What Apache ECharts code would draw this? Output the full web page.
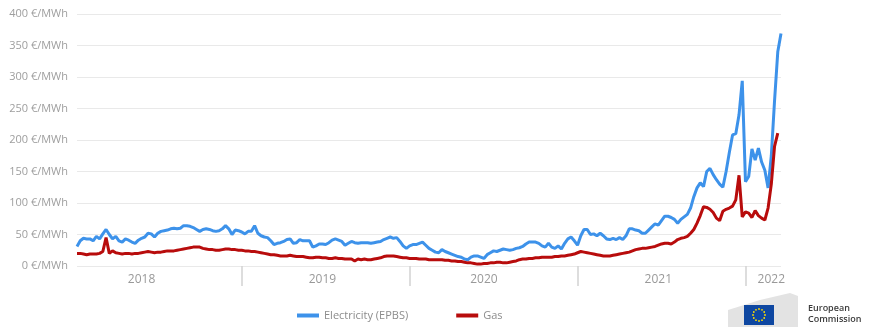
<!DOCTYPE html>
<html>
<head>
<meta charset="utf-8">
<script src="https://cdn.jsdelivr.net/npm/echarts@6/dist/echarts.min.js"></script>
<style>
  html, body { margin: 0; padding: 0; background: #fff; }
  #chart { width: 869px; height: 327px; }
</style>
</head>
<body>
<div id="chart"></div>
<script>
// weekly prices, first week starting 2018-01-15
const startWeek = '2018-01-15';

const electricity = [
  31, 40, 44, 43, 43, 40, 47, 43, 51, 58, 50, 43, 47, 40, 38, 43, 41, 38, 36, 41,
  44, 46, 52, 51, 46, 52, 55, 56, 57, 59, 60, 59, 60, 64, 64, 63, 61, 58, 55, 58,
  59, 58, 56, 55,
  56, 59, 64, 59, 50, 57, 56, 54, 51, 55, 55, 64, 52, 48, 46, 45, 40, 34, 36, 37,
  39, 42, 43, 36, 37, 42, 40, 40, 40, 30, 32, 35, 35, 34, 37, 41, 43, 41, 39, 33,
  36, 39, 37,
  36, 37, 37, 37, 36, 37, 38, 39, 42, 44, 46, 44, 45, 39, 32, 28, 32, 34, 34, 36,
  38, 33, 28, 25, 22, 21, 26, 23, 21, 19, 17, 15, 14, 11, 10, 14, 16, 16, 14, 12,
  18, 21, 24, 23,
  25, 27, 26, 25, 26, 28, 29, 31, 35, 38, 38, 38, 36, 32, 30, 36, 30, 28, 32, 27,
  36, 43, 46, 40, 33, 48, 58, 58, 50, 51, 48, 52, 48, 43, 42, 44, 42, 45, 42, 48,
  59, 59, 57, 56,
  52, 52, 57, 62, 67, 65, 72, 79, 79, 77, 74, 68, 74, 78, 82, 92, 110, 124, 132, 126,
  150, 155, 145, 137,
  130, 125, 150, 180, 208, 210, 240, 294, 134, 142, 186, 168, 187, 165, 152, 124, 175, 262, 340, 369
];

const gas = [
  20, 20, 19, 18, 19, 19, 19, 20, 23, 45, 20, 24, 21, 20, 19, 20, 20, 19, 20, 20,
  21, 22, 23, 22, 21, 22, 22, 23, 24, 24, 24, 25, 26, 27, 28, 29, 30, 30, 30, 28,
  27, 26, 26, 25,
  25, 26, 27, 27, 26, 26, 25, 25, 24, 24, 23, 23, 22, 21, 20, 19, 18, 18, 17, 16,
  16, 16, 17, 16, 15, 15, 15, 14, 13, 13, 14, 14, 13, 13, 12, 12, 13, 12, 12, 11,
  11, 11, 8,
  11, 10, 11, 10, 10, 11, 12, 13, 15, 16, 16, 16, 15, 14, 13, 13, 12, 12, 12, 11,
  11, 11, 10, 10, 10, 10, 10, 9, 9, 8, 8, 7, 7, 6, 5, 5, 4, 3, 3, 4,
  4, 5, 5,
  6, 6, 5, 5, 6, 7, 8, 10, 11, 11, 12, 12, 13, 13, 14, 14, 14, 14, 15, 15,
  16, 16, 17, 18, 19, 21, 23, 22, 21, 20, 19, 18, 17, 16, 16, 16, 17, 18, 19, 20,
  21, 22, 24, 26,
  27, 28, 28, 29, 30, 31, 33, 35, 36, 36, 35, 38, 42, 44, 45, 47, 52, 58, 68, 80,
  94, 93, 90, 85,
  76, 72, 87, 90, 92, 95, 105, 144, 78, 86, 84, 77, 88, 80, 76, 73, 92, 130, 190, 211
];

// week index where each year label sits
const yearLabelIdx = [20, 76, 126, 180, 215];

const weeks = [];
const t0 = new Date(startWeek + 'T00:00:00Z').getTime();
for (let i = 0; i < electricity.length; i++) {
  weeks.push(new Date(t0 + i * 7 * 86400000).toISOString().slice(0, 10));
}

const isYearStart = idx => idx > 0 && weeks[idx].slice(0, 4) !== weeks[idx - 1].slice(0, 4);

// EU logo bits
const stars = [];
for (let k = 0; k < 12; k++) {
  const a = k * Math.PI / 6;
  stars.push({
    type: 'circle',
    shape: { cx: 759 + 6 * Math.cos(a), cy: 315 + 6 * Math.sin(a), r: 0.9 },
    style: { fill: '#ffdd00' }
  });
}

const myChart = echarts.init(document.getElementById('chart'));
const option = {
  animation: false,
  grid: { left: 77, right: 88, top: 14, bottom: 61 },
  xAxis: {
    type: 'category',
    data: weeks,
    boundaryGap: false,
    axisLine: { show: false },
    axisTick: {
      show: true,
      length: 20,
      interval: (idx) => isYearStart(idx),
      lineStyle: { color: '#d2d2d2', width: 1.5 }
    },
    axisLabel: {
      interval: (idx) => yearLabelIdx.indexOf(idx) >= 0,
      formatter: (v) => v.slice(0, 4),
      color: '#999',
      fontSize: 12,
      fontFamily: 'Open Sans',
      margin: 8
    },
    splitLine: { show: false }
  },
  yAxis: {
    type: 'value',
    min: 0,
    max: 400,
    interval: 50,
    axisLine: { show: false },
    axisTick: { show: false },
    axisLabel: {
      formatter: '{value} €/MWh',
      color: '#9e9e9e',
      fontSize: 11,
      fontFamily: 'Open Sans',
      margin: 9
    },
    splitLine: { lineStyle: { color: '#e9e9e9', width: 1 } }
  },
  legend: {
    left: 292,
    top: 305,
    itemWidth: 22,
    itemHeight: 4,
    itemGap: 48,
    icon: 'rect',
    textStyle: { color: '#8c8c8c', fontSize: 11, fontFamily: 'Open Sans' },
    data: ['Electricity (EPBS)', 'Gas']
  },
  series: [
    {
      name: 'Electricity (EPBS)',
      type: 'line',
      data: electricity,
      showSymbol: false,
      color: '#3d92ea',
      lineStyle: { width: 3, color: '#3d92ea' }
    },
    {
      name: 'Gas',
      type: 'line',
      data: gas,
      showSymbol: false,
      color: '#b80c0c',
      lineStyle: { width: 3, color: '#b80c0c' }
    }
  ],
  graphic: [
    {
      type: 'polygon',
      shape: { points: [[728, 327], [728, 310], [760, 300], [790, 293], [798, 296], [798, 327]] },
      style: { fill: '#e3e3e3' }
    },
    {
      type: 'rect',
      shape: { x: 744, y: 305, width: 30, height: 20 },
      style: { fill: '#0e47a1' }
    },
    ...stars,
    {
      type: 'text',
      left: 808,
      top: 303,
      style: { text: 'European\nCommission', fill: '#3a3a3a', fontSize: 9, lineHeight: 11, fontFamily: 'Open Sans', fontWeight: 600 }
    }
  ]
};
myChart.setOption(option);
</script>
</body>
</html>
